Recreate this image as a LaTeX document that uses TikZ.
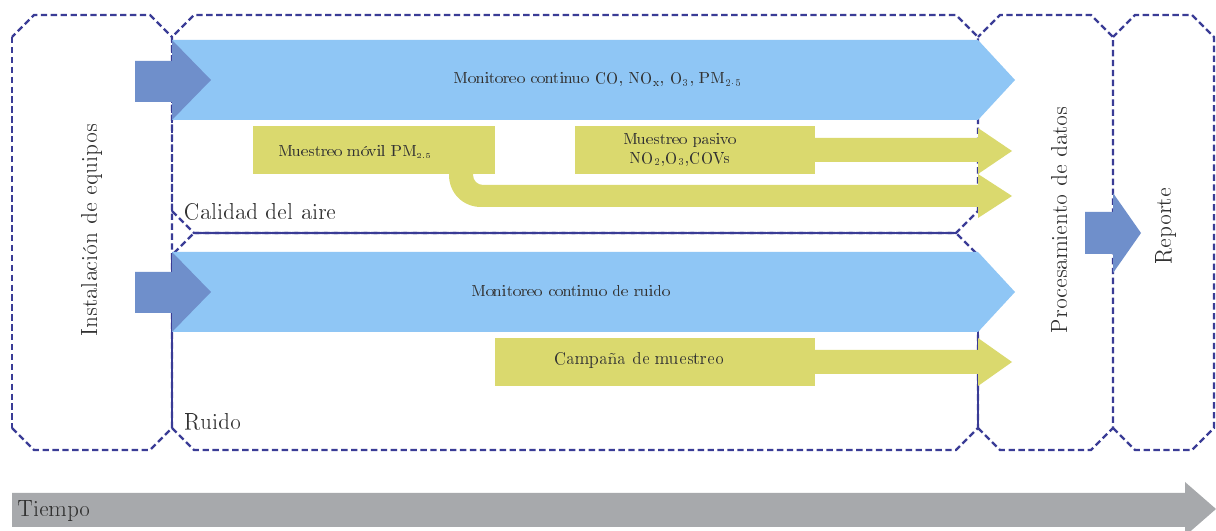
\documentclass[tikz,border=0pt]{standalone}
\usepackage[T1]{fontenc}

\definecolor{framecol}{RGB}{58,60,150}
\definecolor{lightblue}{RGB}{143,198,245}
\definecolor{darkblue}{RGB}{111,143,203}
\definecolor{olive}{RGB}{218,217,110}
\definecolor{greybar}{RGB}{167,169,172}

\tikzset{
  frameline/.style={draw=framecol, line width=1.5pt, dash pattern=on 4pt off 2.2pt},
  solidline/.style={draw=framecol, line width=1.3pt},
  bluebar/.style={fill=lightblue},
  darkbar/.style={fill=darkblue},
  yellowbar/.style={fill=olive},
  timebar/.style={fill=greybar},
  lbl/.style={text=black!80, inner sep=0pt},
  biglbl/.style={lbl, font=\fontsize{14.5}{17}\selectfont},
  midlbl/.style={lbl, font=\fontsize{13.5}{16}\selectfont},
}

% chamfered frame from (x1,y1) to (x2,y2), pixel units, left side left open
\newcommand{\chamfbox}[4]{%
  \draw[frameline] (#1,{#4-22}) -- ({#1+22},#4) -- ({#3-22},#4) -- (#3,{#4-22})
    -- (#3,{#2+22}) -- ({#3-22},#2) -- ({#1+22},#2) -- (#1,{#2+22});}

\begin{document}
\begin{tikzpicture}[x=0.022cm, y=-0.022cm]
  \useasboundingbox (0,0) rectangle (1216,531);
  \fill[white] (0,0) rectangle (1216,531);

  % frames
  \chamfbox{12}{15}{172}{450}
  \chamfbox{172}{15}{978}{233}
  \chamfbox{172}{233}{978}{450}
  \chamfbox{978}{15}{1113}{450}
  \chamfbox{1113}{15}{1214}{450}
  \draw[frameline] (12,37) -- (12,428);
  \draw[frameline] (172,37) -- (172,211);
  \draw[solidline] (194,233) -- (956,233);
  \draw[solidline] (172,255) -- (172,428);
  \draw[solidline] (978,255) -- (978,428);

  % air quality
  \fill[bluebar] (172,40) -- (978,40) -- (1015,80) -- (978,120) -- (172,120) -- cycle;
  \fill[darkbar] (135,61) -- (172,61) -- (172,40) -- (211,80) -- (172,120) -- (172,102) -- (135,102) -- cycle;
  \node[lbl] (moncal) at (598,80) {Monitoreo continuo CO, NO\textsubscript{x}, O\textsubscript{3}, PM\textsubscript{2\textperiodcentered5}};

  \fill[yellowbar] (253,126) rectangle (495,174);
  \fill[yellowbar] (449,172) -- (449,175) .. controls (449,193) and (463,207) .. (481,207)
    -- (978,207) -- (978,218) -- (1012,196) -- (978,174) -- (978,185) -- (483,185)
    .. controls (477.5,185) and (473,180.5) .. (473,175) -- (473,172) -- cycle;
  \node[lbl] (movil) at (355,152) {Muestreo móvil PM\textsubscript{\tiny 2.5}};

  \fill[yellowbar] (575,126) rectangle (815,174);
  \fill[yellowbar] (813,138) -- (978,138) -- (978,128) -- (1012,151) -- (978,174) -- (978,162) -- (813,162) -- cycle;
  \node[lbl, align=center] (pasivo) at (680,150) {Muestreo pasivo\\NO\textsubscript{2},O\textsubscript{3},COVs};

  \node[midlbl, anchor=west] (calidad) at (184,212) {Calidad del aire};

  % noise
  \fill[bluebar] (172,252) -- (978,252) -- (1015,292) -- (978,332) -- (172,332) -- cycle;
  \fill[darkbar] (135,272) -- (172,272) -- (172,252) -- (211,292) -- (172,332) -- (172,313) -- (135,313) -- cycle;
  \node[lbl] (monrui) at (571,291) {Monitoreo continuo de ruido};

  \fill[yellowbar] (495,338) rectangle (815,386);
  \fill[yellowbar] (813,350) -- (978,350) -- (978,338) -- (1012,362) -- (978,386) -- (978,374) -- (813,374) -- cycle;
  \node[lbl, font=\fontsize{10.5}{12}\selectfont] (campana) at (639,360) {Campaña de muestreo};

  \node[midlbl, anchor=west] (ruido) at (184,422) {Ruido};

  % side columns
  \node[biglbl, rotate=90] (inst) at (92,230) {Instalación de equipos};
  \node[biglbl, rotate=90] (proc) at (1060,220) {Procesamiento de datos};
  \fill[darkbar] (1085,212) -- (1113,212) -- (1113,193) -- (1141,233) -- (1113,273) -- (1113,254) -- (1085,254) -- cycle;
  \node[midlbl, rotate=90] (rep) at (1166,226) {Reporte};

  % time axis
  \fill[timebar] (12,493) -- (1185,493) -- (1185,482) -- (1216,509) -- (1185,536) -- (1185,527) -- (12,527) -- cycle;
  \node[biglbl, anchor=west] (tiempo) at (17,511) {Tiempo};
\end{tikzpicture}
\end{document}
